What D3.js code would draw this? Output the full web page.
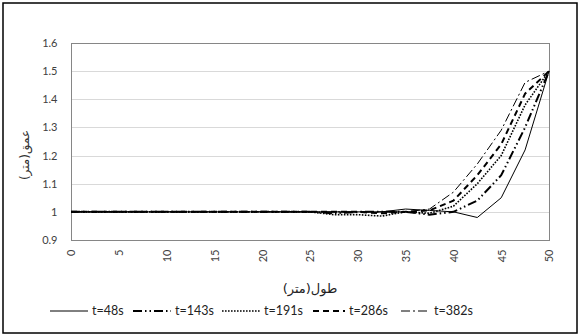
<!DOCTYPE html>
<html>
<head>
<meta charset="utf-8">
<script src="https://cdn.jsdelivr.net/npm/d3@7"></script>
<style>
  body { margin: 0; background: #fff; }
  svg { display: block; }
  .tick text { font-family: Lato, "Liberation Sans", sans-serif; fill: #404040; }
</style>
</head>
<body>
<div id="chart"></div>
<script>
// distance along channel (m)
const xValues = [0, 2.5, 5, 7.5, 10, 12.5, 15, 17.5, 20, 22.5, 25, 27.5, 30, 32.5, 35, 37.5, 40, 42.5, 45, 47.5, 50];
const seriesNames = ["t=48s", "t=143s", "t=191s", "t=286s", "t=382s"];
const depth48 = [1, 1, 1, 1, 1, 1, 1, 1, 1, 1, 1, 1, 1, 1, 1.01, 1.005, 1.0, 0.98, 1.05, 1.22, 1.5];
const depth143 = [1, 1, 1, 1, 1, 1, 1, 1, 1, 1, 1, 0.995, 1, 1, 1, 0.99, 1, 1.04, 1.13, 1.3, 1.5];
const depth191 = [1, 1, 1, 1, 1, 1, 1, 1, 1, 1, 1, 0.99, 0.99, 0.985, 1, 0.995, 1.02, 1.1, 1.2, 1.38, 1.5];
const depth286 = [1, 1, 1, 1, 1, 1, 1, 1, 1, 1, 1, 1, 1, 0.995, 1, 1.005, 1.04, 1.13, 1.24, 1.42, 1.5];
const depth382 = [1, 1, 1, 1, 1, 1, 1, 1, 1, 1, 1, 1, 1, 1, 1, 1.01, 1.07, 1.17, 1.29, 1.46, 1.5];
const xTicks = [0, 5, 10, 15, 20, 25, 30, 35, 40, 45, 50];
const yTicks = [0.9, 1, 1.1, 1.2, 1.3, 1.4, 1.5, 1.6];

const width = 579, height = 336;
const plot = {left: 71, right: 549, top: 43, bottom: 240};

const svg = d3.select("#chart").append("svg")
  .attr("width", width)
  .attr("height", height);

svg.append("rect").attr("width", width).attr("height", height).attr("fill", "#fff");

// chart frame
svg.append("rect")
  .attr("x", 3).attr("y", 3)
  .attr("width", 574).attr("height", 330)
  .attr("fill", "none").attr("stroke", "#000").attr("stroke-width", 1.5);

const x = d3.scaleLinear().domain([0, 50]).range([plot.left, plot.right]);
const y = d3.scaleLinear().domain([0.9, 1.6]).range([plot.bottom, plot.top]);

// gridlines
svg.append("g")
  .selectAll("line")
  .data(yTicks.slice(1, -1))
  .join("line")
  .attr("x1", plot.left).attr("x2", plot.right)
  .attr("y1", d => Math.round(y(d)) + 0.5).attr("y2", d => Math.round(y(d)) + 0.5)
  .attr("stroke", "#d9d9d9");

// plot border
svg.append("rect")
  .attr("x", plot.left + 0.5).attr("y", plot.top + 0.5)
  .attr("width", plot.right - plot.left).attr("height", plot.bottom - plot.top)
  .attr("fill", "none").attr("stroke", "#868686");

const yAxis = svg.append("g")
  .attr("transform", `translate(${plot.left + 0.5},0)`)
  .call(d3.axisLeft(y).tickValues(yTicks).tickFormat(d3.format("")).tickSize(0).tickPadding(14));
yAxis.select(".domain").remove();
yAxis.selectAll("text").attr("font-size", 11);

const xAxis = svg.append("g")
  .attr("transform", `translate(0,${plot.bottom + 0.5})`)
  .call(d3.axisBottom(x).tickValues(xTicks).tickFormat(d3.format("")).tickSize(0));
xAxis.select(".domain").remove();
xAxis.selectAll("text")
  .attr("font-size", 11)
  .attr("transform", "rotate(-90)")
  .attr("text-anchor", "end")
  .attr("dy", "0.35em")
  .attr("x", -9)
  .attr("y", 0);

// axis titles
svg.append("text")
  .attr("transform", "translate(29,155) rotate(-90)")
  .attr("text-anchor", "middle")
  .attr("direction", "rtl")
  .attr("font-family", "DejaVu Sans, sans-serif")
  .attr("font-size", 12)
  .attr("fill", "#333")
  .text("عمق(متر)");

svg.append("text")
  .attr("x", 310).attr("y", 293)
  .attr("text-anchor", "middle")
  .attr("font-family", "DejaVu Sans, sans-serif")
  .attr("font-size", 13)
  .attr("fill", "#222")
  .text("طول(متر)");

const styles = [
  {w: 1, dash: null},
  {w: 2, dash: "9 3 1.5 3 1.5 3"},
  {w: 1.6, dash: "1.6 1.4"},
  {w: 2, dash: "6 4"},
  {w: 1, dash: "9 3 2 3"}
];
const allDepths = [depth48, depth143, depth191, depth286, depth382];
const series = seriesNames.map((name, i) => ({
  name,
  style: styles[i],
  values: xValues.map((xv, j) => [xv, allDepths[i][j]])
}));

const line = d3.line().x(d => x(d[0])).y(d => y(d[1]));

svg.append("g")
  .selectAll("path")
  .data(series)
  .join("path")
  .attr("d", d => line(d.values))
  .attr("fill", "none")
  .attr("stroke", "#000")
  .attr("stroke-width", d => d.style.w)
  .attr("stroke-dasharray", d => d.style.dash);

// legend
const legendX = [50, 133, 222, 313, 401];
const legendLen = [38, 38, 38, 32, 29];
const legend = svg.append("g")
  .selectAll("g")
  .data(series)
  .join("g")
  .attr("transform", (d, i) => `translate(${legendX[i]},311)`);

legend.append("line")
  .attr("x1", 0).attr("x2", (d, i) => legendLen[i])
  .attr("stroke", "#000")
  .attr("stroke-width", d => d.style.w)
  .attr("stroke-dasharray", d => d.style.dash);

legend.append("text")
  .attr("x", (d, i) => legendLen[i] + 4)
  .attr("dy", "0.35em")
  .attr("font-family", "Lato, Liberation Sans, sans-serif")
  .attr("font-size", 12.5)
  .attr("fill", "#222")
  .text(d => d.name);
</script>
</body>
</html>
